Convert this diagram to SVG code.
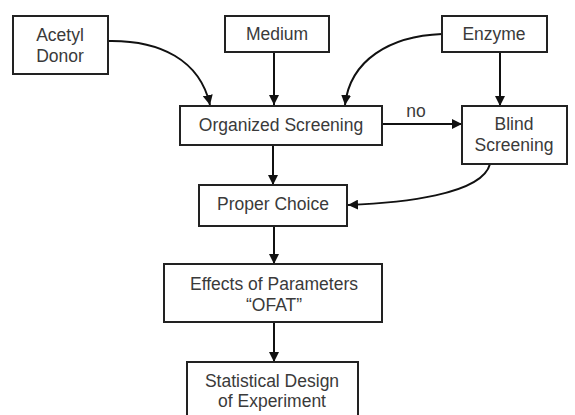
<svg xmlns="http://www.w3.org/2000/svg" width="575" height="415" viewBox="0 0 575 415">
<defs>
<marker id="ah" viewBox="0 0 10 10" refX="10" refY="5" markerWidth="10" markerHeight="10" markerUnits="userSpaceOnUse" orient="auto">
<path d="M0,0 L10,5 L0,10 Z" fill="#111"/>
</marker>
<style>
.box{fill:#fff;stroke:#222;stroke-width:2}
.t{font-family:"Liberation Sans",Arial,sans-serif;font-size:17.5px;fill:#3a3a3a;text-anchor:middle}
.c{fill:none;stroke:#111;stroke-width:2;marker-end:url(#ah)}
</style>
</defs>
<rect width="575" height="415" fill="#fff"/>
<g id="connectors">
<path class="c" d="M108,41 C160,40 200,60 210,105"/>
<path class="c" d="M274,52 L274,105"/>
<path class="c" d="M442,34 C390,36 350,60 345,105"/>
<path class="c" d="M500,52 L500,106"/>
<path class="c" d="M382,124 L462,124"/>
<path class="c" d="M273,145 L273,185"/>
<path class="c" d="M490,164 C482,195 400,203 348,205"/>
<path class="c" d="M274,226 L274,264"/>
<path class="c" d="M274,322 L274,362"/>
<text class="t" x="416" y="117">no</text>
</g>
<g id="acetyl">
<rect class="box" x="13" y="16" width="95" height="58"/>
<text class="t" x="60" y="41">Acetyl</text>
<text class="t" x="60" y="62">Donor</text>
</g>
<g id="medium">
<rect class="box" x="225" y="16" width="104" height="36"/>
<text class="t" x="277" y="40">Medium</text>
</g>
<g id="enzyme">
<rect class="box" x="442" y="16" width="105" height="36"/>
<text class="t" x="494" y="40">Enzyme</text>
</g>
<g id="organized">
<rect class="box" x="180" y="106" width="202" height="39"/>
<text class="t" x="281" y="131">Organized Screening</text>
</g>
<g id="blind">
<rect class="box" x="462" y="106" width="105" height="58"/>
<text class="t" x="514" y="130">Blind</text>
<text class="t" x="514" y="151">Screening</text>
</g>
<g id="proper">
<rect class="box" x="199" y="185" width="148" height="41"/>
<text class="t" x="273" y="210">Proper Choice</text>
</g>
<g id="effects">
<rect class="box" x="164" y="264" width="218" height="58"/>
<text class="t" x="274" y="290">Effects of Parameters</text>
<text class="t" x="274" y="311">“OFAT”</text>
</g>
<g id="statistical">
<rect class="box" x="187" y="362" width="171" height="60"/>
<text class="t" x="272" y="387">Statistical Design</text>
<text class="t" x="272" y="407">of Experiment</text>
</g>
</svg>
